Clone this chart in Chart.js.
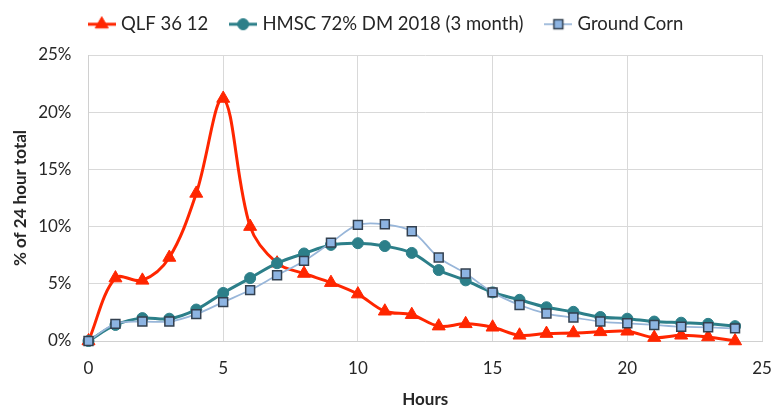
<!DOCTYPE html>
<html lang="en">
<head>
    <meta charset="UTF-8">
    <title>Hourly release</title>
    <script src="https://cdn.jsdelivr.net/npm/chart.js"></script>
    <style>
        body { margin: 0; padding: 0; background: #ffffff; }
        .container { width: 775px; height: 405px; }
    </style>
</head>
<body>
    <div class="container">
        <canvas id="releaseChart" width="775" height="405"></canvas>
    </div>

    <script>
        // values (% of 24 hour total)
        var hours = [0, 1, 2, 3, 4, 5, 6, 7, 8, 9, 10, 11, 12, 13, 14, 15, 16, 17, 18, 19, 20, 21, 22, 23, 24];
        var qlf = [0, 5.5, 5.3, 7.3, 12.9, 21.2, 10.0, 6.8, 5.9, 5.1, 4.1, 2.6, 2.3, 1.3, 1.5, 1.2, 0.5, 0.65, 0.7, 0.8, 0.85, 0.3, 0.5, 0.35, 0];
        var hmsc = [0, 1.4, 2.0, 1.95, 2.75, 4.2, 5.5, 6.8, 7.65, 8.4, 8.55, 8.3, 7.7, 6.2, 5.3, 4.25, 3.6, 2.95, 2.55, 2.1, 1.95, 1.7, 1.6, 1.5, 1.3];
        var corn = [0, 1.5, 1.7, 1.7, 2.35, 3.4, 4.45, 5.75, 7.0, 8.6, 10.15, 10.2, 9.6, 7.3, 5.9, 4.25, 3.15, 2.4, 2.05, 1.7, 1.55, 1.4, 1.25, 1.2, 1.1];
        var seriesNames = ['QLF 36 12', 'HMSC 72% DM 2018 (3 month)', 'Ground Corn'];

        var fontFamily = "Lato, 'Open Sans', sans-serif";
        var textColor = '#262626';

        function toPoints(values) {
            return hours.map(function (h, i) { return { x: h, y: values[i] }; });
        }

        // small line + marker icon for the legend, like the office legend
        function legendIcon(style, lineColor, lineWidth, fill, stroke, radius, bw) {
            var c = document.createElement('canvas');
            c.width = 28;
            c.height = 18;
            var g = c.getContext('2d');
            g.strokeStyle = lineColor;
            g.lineWidth = lineWidth;
            g.beginPath();
            g.moveTo(0, 9);
            g.lineTo(28, 9);
            g.stroke();
            g.fillStyle = fill;
            g.strokeStyle = stroke;
            g.lineWidth = bw;
            Chart.helpers.drawPoint(g, { pointStyle: style, radius: radius, borderWidth: bw }, 14, 9);
            return c;
        }

        var ctx = document.getElementById('releaseChart').getContext('2d');

        var legendHeight = {
            id: 'legendHeight',
            beforeInit: function (chart) {
                var fit = chart.legend.fit;
                chart.legend.fit = function () {
                    fit.bind(chart.legend)();
                    this.height = 65;
                };
            }
        };

        var chart = new Chart(ctx, {
            type: 'line',
            data: {
                datasets: [{
                    label: seriesNames[0],
                    data: toPoints(qlf),
                    borderColor: '#ff2600',
                    backgroundColor: '#ff2600',
                    borderWidth: 3,
                    pointStyle: 'triangle',
                    pointRadius: 7.5,
                    pointBorderWidth: 1,
                    pointBackgroundColor: '#ff2600',
                    pointBorderColor: '#ff2600',
                    tension: 0.35,
                    order: 3
                }, {
                    label: seriesNames[1],
                    data: toPoints(hmsc),
                    borderColor: '#2c7f89',
                    backgroundColor: '#2c7f89',
                    borderWidth: 3,
                    pointStyle: 'circle',
                    pointRadius: 5.5,
                    pointBorderWidth: 1,
                    pointBackgroundColor: '#2c7f89',
                    pointBorderColor: '#2c7f89',
                    tension: 0.35,
                    order: 2
                }, {
                    label: seriesNames[2],
                    data: toPoints(corn),
                    borderColor: '#98b6d9',
                    backgroundColor: '#8db4e2',
                    borderWidth: 1.75,
                    pointStyle: 'rect',
                    pointRadius: 6.3,
                    pointBorderWidth: 1.5,
                    pointBackgroundColor: '#8db4e2',
                    pointBorderColor: '#33404f',
                    tension: 0.35,
                    order: 1
                }]
            },
            options: {
                responsive: false,
                animation: false,
                clip: false,
                layout: {
                    padding: { top: -10, right: 0, bottom: 0, left: 0 }
                },
                plugins: {
                    tooltip: { enabled: false },
                    legend: {
                        position: 'top',
                        labels: {
                            usePointStyle: true,
                            pointStyleWidth: 20,
                            padding: 25,
                            color: textColor,
                            font: { family: fontFamily, size: 18.5 },
                            generateLabels: function (chart) {
                                var icons = [
                                    legendIcon('triangle', '#ff2600', 3, '#ff2600', '#ff2600', 7.5, 1),
                                    legendIcon('circle', '#2c7f89', 3, '#2c7f89', '#2c7f89', 5.5, 1),
                                    legendIcon('rect', '#98b6d9', 1.75, '#8db4e2', '#33404f', 6.3, 1.5)
                                ];
                                return chart.data.datasets.map(function (ds, i) {
                                    return {
                                        text: ds.label,
                                        pointStyle: icons[i],
                                        fillStyle: ds.backgroundColor,
                                        strokeStyle: ds.borderColor,
                                        lineWidth: 0,
                                        fontColor: textColor,
                                        datasetIndex: i,
                                        hidden: false
                                    };
                                });
                            }
                        }
                    }
                },
                scales: {
                    x: {
                        type: 'linear',
                        min: 0,
                        max: 25,
                        afterFit: function (scale) {
                            scale.height = 64;
                            scale.paddingRight = 13;
                        },
                        grid: { color: '#d9d9d9', drawTicks: false },
                        border: { color: '#d0d0d0' },
                        ticks: {
                            stepSize: 5,
                            padding: 17,
                            color: textColor,
                            font: { family: fontFamily, size: 17 }
                        },
                        title: {
                            display: true,
                            text: 'Hours',
                            color: textColor,
                            padding: { top: 6, bottom: -5 },
                            font: { family: fontFamily, size: 17, weight: 'bold' }
                        }
                    },
                    y: {
                        min: 0,
                        max: 25,
                        afterFit: function (scale) { scale.width = 88.5; },
                        grid: { color: '#d9d9d9', drawTicks: false },
                        border: { color: '#d0d0d0' },
                        ticks: {
                            stepSize: 5,
                            padding: 17,
                            color: textColor,
                            font: { family: fontFamily, size: 17 },
                            callback: function (value) { return value + '%'; }
                        },
                        title: {
                            display: true,
                            text: '% of 24 hour total',
                            color: textColor,
                            padding: { top: 10, bottom: 4 },
                            font: { family: fontFamily, size: 17, weight: 'bold' }
                        }
                    }
                }
            },
            plugins: [legendHeight]
        });
    </script>
</body>
</html>
